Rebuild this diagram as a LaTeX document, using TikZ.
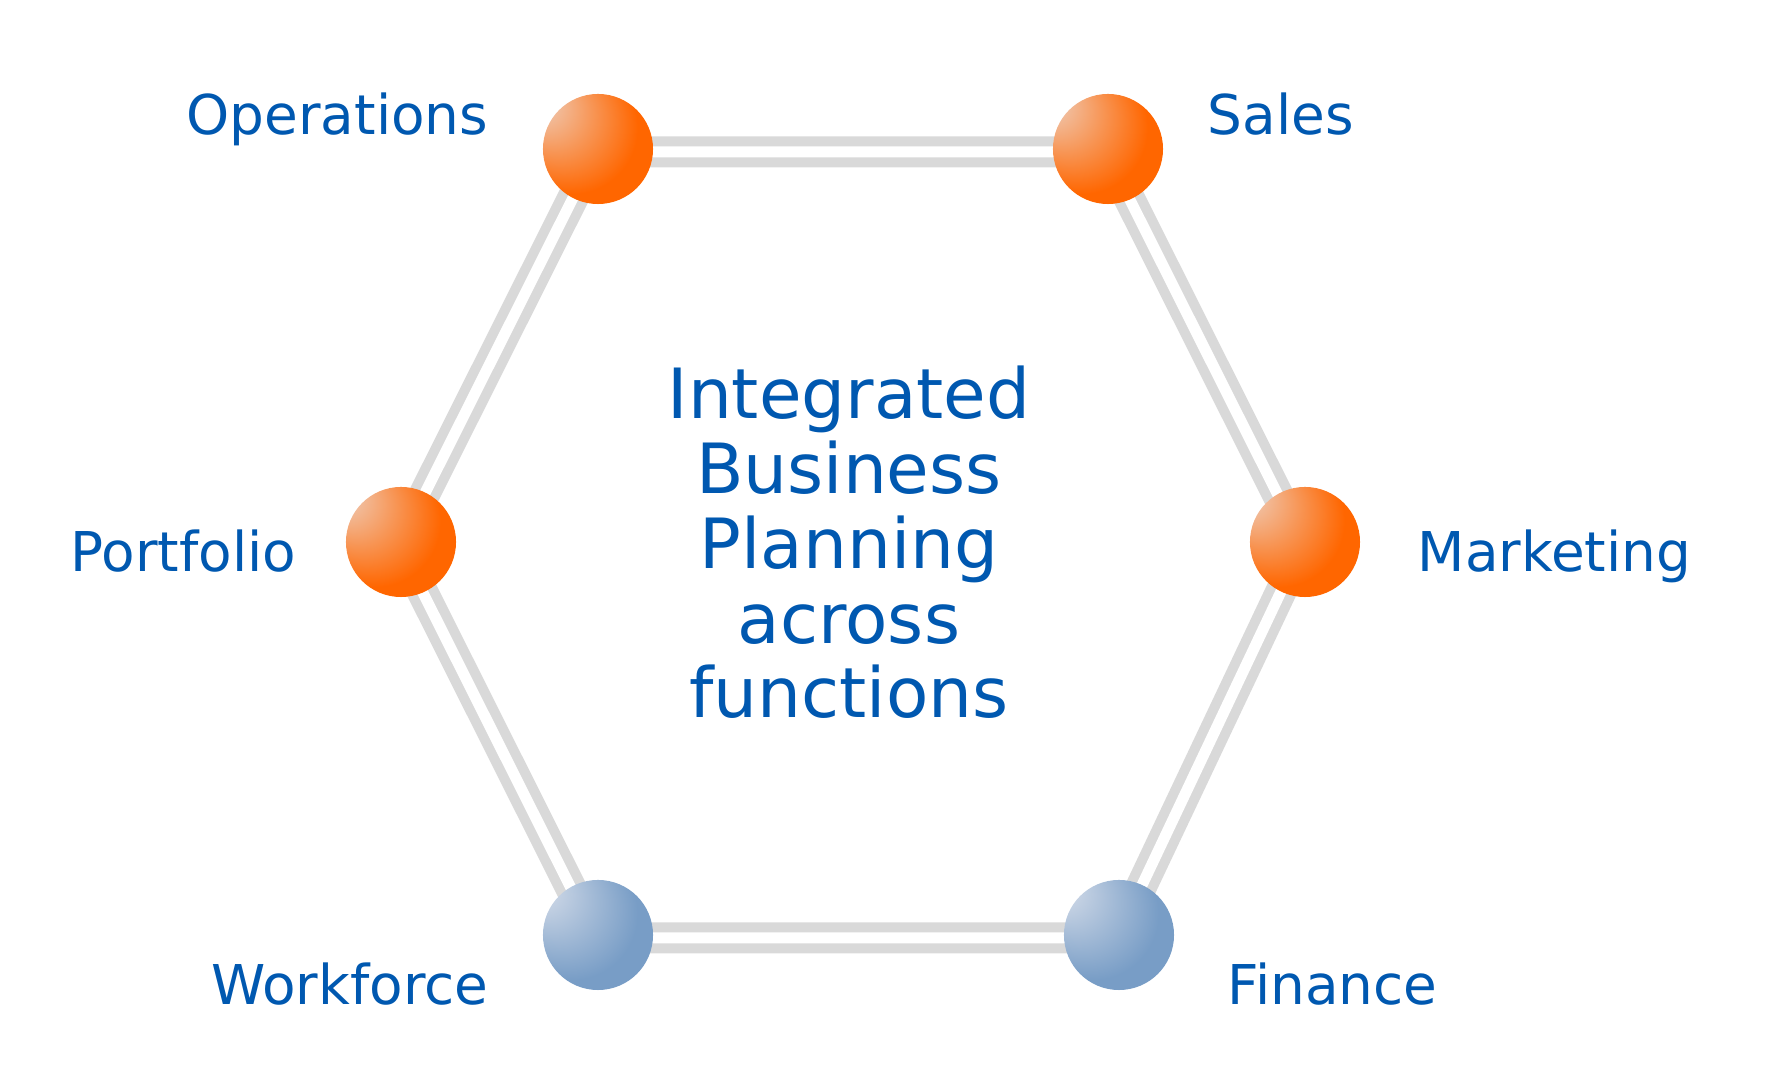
\documentclass[tikz,border=0pt]{standalone}
\usepackage{fontspec}
\setmainfont{DejaVu Sans}
\usetikzlibrary{backgrounds}
\definecolor{txt}{RGB}{0,88,176}
\definecolor{conn}{RGB}{217,217,217}
\definecolor{oBase}{RGB}{255,102,0}
\definecolor{oHi}{RGB}{236,222,216}
\colorlet{oM1}{oBase!25!oHi}
\colorlet{oM2}{oBase!60!oHi}
\definecolor{bBase}{RGB}{120,157,198}
\definecolor{bHi}{RGB}{228,231,239}
\colorlet{bM1}{bBase!25!bHi}
\colorlet{bM2}{bBase!60!bHi}
\pgfdeclareradialshading{orangeball}{\pgfpoint{-30bp}{24bp}}{color(0bp)=(oHi); color(6bp)=(oM1); color(17bp)=(oM2); color(30bp)=(oBase); color(50bp)=(oBase)}
\pgfdeclareradialshading{blueball}{\pgfpoint{-30bp}{24bp}}{color(0bp)=(bHi); color(6bp)=(bM1); color(17bp)=(bM2); color(30bp)=(bBase); color(50bp)=(bBase)}
\tikzset{
  oball/.style={circle, minimum size=1.1cm, inner sep=0pt, shade, shading=orangeball},
  bball/.style={circle, minimum size=1.1cm, inner sep=0pt, shade, shading=blueball},
  lbl/.style={inner sep=0pt, text=txt, font=\fontsize{15.6}{18}\selectfont},
  link/.style={draw=conn, line width=0.1cm, double=white, double distance=0.11cm}
}
\begin{document}
\begin{tikzpicture}[x=0.01cm, y=-0.01cm]
\useasboundingbox (0,0) rectangle (1768,1080);
% spheres
\node[oball] (ops) at (598,149) {};
\node[oball] (sales) at (1108,149) {};
\node[oball] (mkt) at (1305,542) {};
\node[bball] (fin) at (1119,935) {};
\node[bball] (wf) at (598,935) {};
\node[oball] (port) at (401,542) {};
% connectors
\begin{pgfonlayer}{background}
\draw[link] ([shift={(-2,3)}]ops.center) -- ([shift={(-2,3)}]sales.center)
  -- ([shift={(-2,3)}]mkt.center) -- ([shift={(-2,3)}]fin.center)
  -- ([shift={(-2,3)}]wf.center) -- ([shift={(-2,3)}]port.center)
  -- cycle;
\end{pgfonlayer}
% labels
\node[lbl, anchor=base east] (lops) at (489,135) {Operations};
\node[lbl, anchor=base west] (lsales) at (1207,135) {Sales};
\node[lbl, anchor=base west] (lport) at (70,572) {Portfolio};
\node[lbl, anchor=base west] (lmkt) at (1417,572) {Marketing};
\node[lbl, anchor=base east] (lwf) at (489,1005) {Workforce};
\node[lbl, anchor=base west] (lfin) at (1227,1005) {Finance};
% title
\node[inner sep=0pt, align=center, anchor=base, text=txt,
  font=\fontsize{19.7}{21.27}\selectfont] (title) at (849,718)
  {Integrated\\Business\\Planning\\across\\functions};
\end{tikzpicture}
\end{document}
